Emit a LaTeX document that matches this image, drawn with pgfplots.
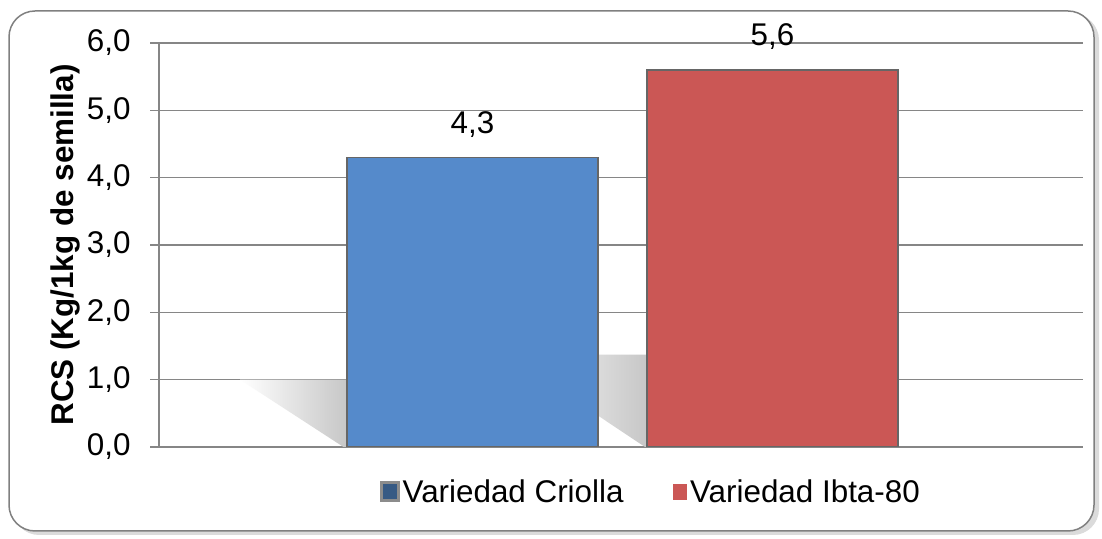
\documentclass[border=0pt]{standalone}
\usepackage{pgfplots}
\pgfplotsset{compat=1.18}
\usepackage{fontspec}
\setmainfont{Liberation Sans}
\definecolor{barBlue}{HTML}{558ACB}
\definecolor{barRed}{HTML}{CB5755}
\definecolor{gridGray}{HTML}{868686}

\begin{document}
\begin{tikzpicture}[x=1bp,y=1bp]
\useasboundingbox (0,0) rectangle (1102,539);
% chart frame with soft shadow
\fill[black!14, rounded corners=26bp] (13,4) rectangle (1099,525);
\draw[line width=1.5bp, black!50, fill=white, rounded corners=26bp] (9,8) rectangle (1094,528);
\begin{axis}[
  at={(159bp,92bp)}, anchor=south west,
  scale only axis, width=924bp, height=404bp,
  xmin=-1.045, xmax=2.035, ymin=0, ymax=6,
  ytick={0,1,...,6}, xtick=\empty,
  axis x line*=bottom, axis y line*=left,
  axis line style={gridGray, line width=1.5bp},
  ymajorgrids, major grid style={gridGray, line width=1.5bp},
  tick align=outside, major tick length=9bp,
  major tick style={gridGray, line width=1.5bp},
  ybar, bar shift=0pt, bar width=0.837,
  /pgf/number format/.cd, fixed, fixed zerofill, precision=1, use comma, assume math mode=true,
  /pgfplots/.cd,
  tick label style={font=\fontsize{31.5}{36}\selectfont},
  yticklabel style={xshift=-16bp},
  ylabel={\textbf{RCS (Kg/1kg de semilla)}},
  ylabel style={font=\fontsize{31.5}{36}\selectfont},
  nodes near coords,
  every node near coord/.append style={font=\fontsize{31.5}{36}\selectfont, black, yshift=16bp},
  legend style={at={(0.533,-0.111)}, anchor=center, draw=none, fill=none,
    legend columns=2, font=\fontsize{31.5}{36}\selectfont,
    nodes={inner xsep=3bp},
    /tikz/every even column/.append style={column sep=46bp}},
]
% perspective shadows behind the bars
\shade[left color=white, right color=black!22] (-0.775,1.0) -- (-0.418,1.0) -- (-0.418,0) -- (-0.43,0) -- cycle;
\shade[left color=white, right color=black!22] (0.115,1.37) -- (0.582,1.37) -- (0.582,0) -- (0.575,0) -- cycle;
\addplot[fill=barBlue, draw=black!60, line width=1.5bp,
  legend image code/.code={
    \fill[black!45] (0bp,-9bp) rectangle (18bp,10bp);
    \fill[barBlue!65!black] (3bp,-6bp) rectangle (15bp,7bp);}]
  coordinates {(0,4.3)};
\addlegendentry{Variedad Criolla}
\addplot[fill=barRed, draw=black!60, line width=1.5bp,
  legend image code/.code={\fill[barRed] (0bp,-7bp) rectangle (13bp,7bp);}]
  coordinates {(1,5.6)};
\addlegendentry{Variedad Ibta-80}
\end{axis}
\end{tikzpicture}
\end{document}
